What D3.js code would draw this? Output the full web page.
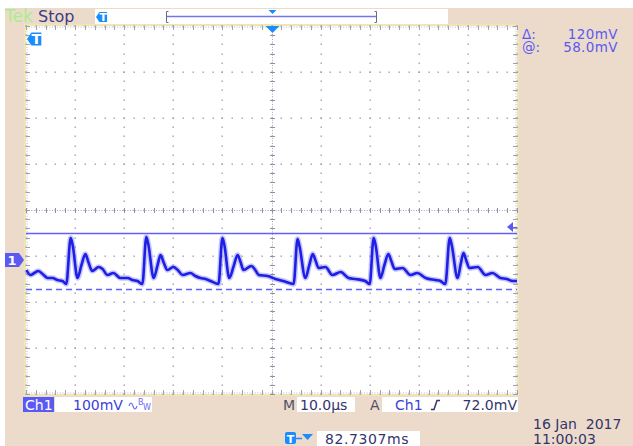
<!DOCTYPE html>
<html>
<head>
<meta charset="utf-8">
<script src="https://cdn.jsdelivr.net/npm/d3@7"></script>
<style>
  body { margin: 0; background: #fff; }
  svg { display: block; }
  text { font-family: "DejaVu Sans", Verdana, sans-serif; }
</style>
</head>
<body>
<div id="scope"></div>
<script>
var width = 633, height = 446;

// trace: time (µs, 0 = trigger) and voltage (mV)
var timeUs = [-49.9,-49.1,-48.3,-47.5,-46.4,-45.6,-44.6,-43.6,-42.6,-41.8,-40.9,-40.5,-39.5,-38.7,-37.9,-37.3,-36.5,-35.2,-34.4,-33.4,-32.2,-30.8,-29.3,-28.3,-27.3,-26.3,-25.5,-25.1,-24.0,-23.2,-22.6,-22.0,-21.2,-20.0,-19.1,-18.1,-16.5,-15.5,-14.5,-13.4,-12.4,-10.8,-10.0,-9.6,-8.6,-7.7,-6.9,-6.3,-5.7,-4.1,-3.3,-2.6,-0.8,0.8,2.4,4.5,5.3,5.7,6.9,7.7,8.4,9.0,9.6,11.0,12.4,14.1,15.7,17.1,19.1,20.0,20.8,21.2,22.2,23.0,23.8,24.4,25.1,26.7,28.3,29.7,31.4,33.4,34.4,35.4,36.3,36.7,37.9,38.5,39.1,39.7,40.3,42.0,43.6,45.0,46.6,47.9,49.1,50.0];
var voltsMv = [-21.7,-32.6,-28.3,-23.9,-32.6,-39.1,-39.1,-43.5,-45.7,-52.2,47.8,32.6,-39.1,-10.9,13.0,-4.3,-23.9,-15.2,-19.6,-32.6,-28.3,-39.1,-39.1,-43.5,-45.7,-52.2,50.0,34.8,-39.1,-10.9,10.9,-4.3,-21.7,-15.2,-21.7,-32.6,-28.3,-34.8,-39.1,-41.3,-45.7,-52.2,47.8,32.6,-39.1,-13.0,10.9,-4.3,-21.7,-13.0,-21.7,-32.6,-34.8,-41.3,-45.7,-52.2,45.7,30.4,-39.1,-10.9,13.0,-2.2,-17.4,-15.2,-32.6,-26.1,-39.1,-41.3,-45.7,-52.2,47.8,32.6,-39.1,-10.9,13.0,-2.2,-19.6,-17.4,-32.6,-28.3,-39.1,-43.5,-45.7,-52.2,47.8,32.6,-39.1,-10.9,15.2,-2.2,-17.4,-15.2,-32.6,-28.3,-39.1,-41.3,-45.7,-45.7];

// scope settings
var voltsPerDiv = 100, timePerDiv = 10, chPositionDiv = -1.087;
var cursorsMv = [58, -62];
var triggerLevelMv = 72;
var readoutLabels = ['\u0394:', '@:'];
var readoutValues = ['120mV', '58.0mV'];
var chLabel = 'Ch1', chScale = '100mV', timeBase = '10.0\u00b5s';
var trigSource = 'Ch1', trigLevel = '72.0mV', trigPos = '82.7307ms';
var dateText = ['16 Jan  2017', '11:00:03'];

var beige = '#ecdbcb', blue = '#5a5af2', azure = '#1a8cff', navy = '#34346c';

var svg = d3.select('#scope').append('svg')
  .attr('width', width)
  .attr('height', height);

svg.append('rect').attr('width', width).attr('height', height).attr('fill', '#fff');
svg.append('rect').attr('x', 5).attr('y', 8).attr('width', width - 5).attr('height', height - 8).attr('fill', beige);

var sLeft = 26, sRight = 517, sTop = 26, sBottom = 394;
var x = d3.scaleLinear().domain([-5 * timePerDiv, 5 * timePerDiv]).range([sLeft, sRight]);
var y = d3.scaleLinear()
  .domain([(-4 - chPositionDiv) * voltsPerDiv, (4 - chPositionDiv) * voltsPerDiv])
  .range([sBottom, sTop]);

// screen
svg.append('rect')
  .attr('x', sLeft - 1).attr('y', sTop - 1)
  .attr('width', sRight - sLeft + 2).attr('height', sBottom - sTop + 2)
  .attr('fill', '#fff').attr('stroke', '#efe6b6').attr('stroke-width', 2);

var grid = svg.append('g').attr('id', 'graticule');
var tMinor = d3.range(-50, 50.01, 2), tMajor = d3.range(-50, 50.01, 10);
var vDom = y.domain();
var vMajor = d3.range(0, 9).map(function(i) { return vDom[0] + i * voltsPerDiv; });
var vMinor = d3.range(0, 41).map(function(i) { return vDom[0] + i * voltsPerDiv / 5; });
var dotCol = '#9c9cae';

// dots on every grid line at minor steps
tMajor.forEach(function(t) {
  grid.selectAll(null).data(vMinor).enter().append('rect')
    .attr('x', Math.round(x(t)) - 0.5).attr('y', function(v) { return Math.round(y(v)) - 0.5; })
    .attr('width', 1.4).attr('height', 1.4).attr('fill', dotCol);
});
vMajor.forEach(function(v) {
  grid.selectAll(null).data(tMinor).enter().append('rect')
    .attr('x', function(t) { return Math.round(x(t)) - 0.5; }).attr('y', Math.round(y(v)) - 0.5)
    .attr('width', 1.4).attr('height', 1.4).attr('fill', dotCol);
});

// centre lines and frame with ticks
var cx = Math.round(x(0)) + 0.5, cy = Math.round(y(vDom[0] + 4 * voltsPerDiv)) + 0.5;
grid.append('line').attr('x1', cx).attr('x2', cx).attr('y1', sTop).attr('y2', sBottom)
  .attr('stroke', '#a4a4b8').attr('stroke-dasharray', '1,1.6');
grid.append('line').attr('x1', sLeft).attr('x2', sRight).attr('y1', cy).attr('y2', cy)
  .attr('stroke', '#a4a4b8').attr('stroke-dasharray', '1,1.6');
[sTop + 1, sBottom - 1].forEach(function(yy) {
  grid.append('line').attr('x1', sLeft).attr('x2', sRight).attr('y1', yy).attr('y2', yy)
    .attr('stroke', '#b4b4c0').attr('stroke-dasharray', '1,1.6');
});
[sLeft + 1, sRight - 1].forEach(function(xx) {
  grid.append('line').attr('x1', xx).attr('x2', xx).attr('y1', sTop).attr('y2', sBottom)
    .attr('stroke', '#b4b4c0').attr('stroke-dasharray', '1,1.6');
});
grid.selectAll(null).data(tMinor).enter().append('line')
  .attr('x1', function(t) { return Math.round(x(t)) + 0.5; })
  .attr('x2', function(t) { return Math.round(x(t)) + 0.5; })
  .attr('y1', cy - 2.5).attr('y2', cy + 2.5).attr('stroke', '#9090a8');
grid.selectAll(null).data(vMinor).enter().append('line')
  .attr('y1', function(v) { return Math.round(y(v)) + 0.5; })
  .attr('y2', function(v) { return Math.round(y(v)) + 0.5; })
  .attr('x1', cx - 2.5).attr('x2', cx + 2.5).attr('stroke', '#9090a8');
[[sTop, 4], [sBottom, -4]].forEach(function(e) {
  grid.selectAll(null).data(tMinor).enter().append('line')
    .attr('x1', function(t) { return Math.round(x(t)) + 0.5; })
    .attr('x2', function(t) { return Math.round(x(t)) + 0.5; })
    .attr('y1', e[0]).attr('y2', e[0] + e[1]).attr('stroke', '#a0a0b4');
});
[[sLeft, 4], [sRight, -4]].forEach(function(e) {
  grid.selectAll(null).data(vMinor).enter().append('line')
    .attr('y1', function(v) { return Math.round(y(v)) + 0.5; })
    .attr('y2', function(v) { return Math.round(y(v)) + 0.5; })
    .attr('x1', e[0]).attr('x2', e[0] + e[1]).attr('stroke', '#a0a0b4');
});

// cursors
svg.append('line').attr('x1', sLeft).attr('x2', sRight)
  .attr('y1', Math.round(y(cursorsMv[0])) + 0.5).attr('y2', Math.round(y(cursorsMv[0])) + 0.5)
  .attr('stroke', '#5f5fff').attr('stroke-width', 1.3);
svg.append('line').attr('x1', sLeft).attr('x2', sRight)
  .attr('y1', Math.round(y(cursorsMv[1])) + 0.5).attr('y2', Math.round(y(cursorsMv[1])) + 0.5)
  .attr('stroke', '#5f5fff').attr('stroke-width', 1.3).attr('stroke-dasharray', '6,4');

// waveform
var pts = timeUs.map(function(t, i) { return [t, voltsMv[i]]; });
var line = d3.line().x(function(d) { return x(d[0]); }).y(function(d) { return y(d[1]); })
  .curve(d3.curveMonotoneX);
svg.append('path').datum(pts).attr('d', line)
  .attr('fill', 'none').attr('stroke', '#8c8cff').attr('stroke-width', 5.5).attr('stroke-opacity', 0.5)
  .attr('stroke-linejoin', 'round');
svg.append('path').datum(pts).attr('d', line)
  .attr('fill', 'none').attr('stroke', '#1e1ee4').attr('stroke-width', 2.6)
  .attr('stroke-linejoin', 'round');

// markers
function tMarker(g, px, py, s, col, label) {
  g.append('path')
    .attr('d', 'M' + px + ',' + py + 'l' + (4 * s) + ',' + (-6 * s) + 'h' + (9 * s) + 'v' + (12 * s) + 'h' + (-9 * s) + 'z')
    .attr('fill', col);
  g.append('text').attr('x', px + 8.5 * s).attr('y', py + 4.5 * s)
    .attr('text-anchor', 'middle').attr('font-size', 13 * s).attr('font-weight', 'bold')
    .attr('fill', '#fff').text(label);
}
tMarker(svg, 27, 39, 1.1, azure, 'T');

// channel 1 ground marker
var gy = Math.round(y(0));
svg.append('path')
  .attr('d', 'M5,' + (gy - 7) + 'h14l5,7l-5,7h-14z').attr('fill', blue);
svg.append('text').attr('x', 12).attr('y', gy + 5).attr('text-anchor', 'middle')
  .attr('font-size', 13).attr('font-weight', 'bold').attr('fill', '#fff').text('1');

// trigger position marker at top of screen
svg.append('path').attr('d', 'M' + (cx - 7) + ',' + sTop + 'h14l-7,7z').attr('fill', azure);

// trigger level arrow
var ty = Math.round(y(triggerLevelMv));
svg.append('path').attr('d', 'M507,' + ty + 'l6,-5v10z').attr('fill', blue);
svg.append('line').attr('x1', 512).attr('x2', 517).attr('y1', ty + 0.5).attr('y2', ty + 0.5)
  .attr('stroke', blue);

// top bar
svg.append('text').attr('x', 5).attr('y', 22).attr('font-size', 17).attr('fill', '#a8ee8a').text('Tek');
svg.append('text').attr('x', 38).attr('y', 22).attr('font-size', 16).attr('fill', '#3c3c88').text('Stop');
svg.append('rect').attr('x', 95).attr('y', 9).attr('width', 353).attr('height', 15).attr('fill', '#fff');
tMarker(svg, 96, 17, 0.85, azure, 'T');
svg.append('line').attr('x1', 166).attr('x2', 377).attr('y1', 16.5).attr('y2', 16.5)
  .attr('stroke', '#7474ee').attr('stroke-width', 1.5);
[166.5, 376.5].forEach(function(bx, i) {
  svg.append('path')
    .attr('d', 'M' + (bx + (i ? -2 : 2)) + ',11.5H' + bx + 'V22.5H' + (bx + (i ? -2 : 2)))
    .attr('fill', 'none').attr('stroke', '#6a6a80');
});
svg.append('path').attr('d', 'M' + (cx - 4) + ',10h8l-4,4z').attr('fill', azure);

// cursor readout
readoutLabels.forEach(function(lab, i) {
  svg.append('text').attr('x', 522).attr('y', 38.5 + i * 13).attr('font-size', 13.5).attr('fill', blue).text(lab);
  svg.append('text').attr('x', 618).attr('y', 38.5 + i * 13).attr('text-anchor', 'end')
    .attr('font-size', 13.5).attr('letter-spacing', 0.4).attr('fill', blue).text(readoutValues[i]);
});

// bottom status line
var sy = 410;
svg.append('rect').attr('x', 23).attr('y', 397).attr('width', 31).attr('height', 15).attr('fill', blue);
svg.append('text').attr('x', 25).attr('y', sy).attr('font-size', 14).attr('fill', '#fff').text(chLabel);
svg.append('rect').attr('x', 55).attr('y', 397).attr('width', 97).attr('height', 15).attr('fill', '#fff');
svg.append('text').attr('x', 73).attr('y', sy).attr('font-size', 14).attr('fill', '#4040d8').text(chScale);
svg.append('path').attr('d', 'M129,406q2,-6 4,0t4,0').attr('fill', 'none').attr('stroke', '#6a6af0').attr('stroke-width', 1.2);
svg.append('text').attr('x', 138).attr('y', 405).attr('font-size', 8).attr('fill', '#6a6af0').text('B');
svg.append('text').attr('x', 143).attr('y', 410).attr('font-size', 8).attr('fill', '#6a6af0').text('W');

svg.append('text').attr('x', 283).attr('y', sy).attr('font-size', 14).attr('fill', '#50506a').text('M');
svg.append('rect').attr('x', 297).attr('y', 397).attr('width', 58).attr('height', 15).attr('fill', '#fff');
svg.append('text').attr('x', 300).attr('y', sy).attr('font-size', 14).attr('fill', navy).text(timeBase);

svg.append('text').attr('x', 370).attr('y', sy).attr('font-size', 14).attr('fill', '#50506a').text('A');
svg.append('rect').attr('x', 382).attr('y', 397).attr('width', 136).attr('height', 15).attr('fill', '#fff');
svg.append('text').attr('x', 395).attr('y', sy).attr('font-size', 14).attr('fill', '#4040d8').text(trigSource);
svg.append('path').attr('d', 'M431,409.5h3l3,-9h3').attr('fill', 'none').attr('stroke', navy).attr('stroke-width', 1.5);
svg.append('text').attr('x', 517).attr('y', sy).attr('text-anchor', 'end').attr('font-size', 14).attr('fill', navy).text(trigLevel);

// trigger position readout
svg.append('rect').attr('x', 285).attr('y', 432).attr('width', 11).attr('height', 12).attr('rx', 2).attr('fill', azure);
svg.append('text').attr('x', 290.5).attr('y', 442.5).attr('text-anchor', 'middle').attr('font-size', 11)
  .attr('font-weight', 'bold').attr('fill', '#fff').text('T');
svg.append('line').attr('x1', 296).attr('x2', 302).attr('y1', 438.5).attr('y2', 438.5).attr('stroke', azure).attr('stroke-width', 1.5);
svg.append('path').attr('d', 'M302,434h11l-5.5,6z').attr('fill', azure);
svg.append('rect').attr('x', 317).attr('y', 431).attr('width', 103).attr('height', 15).attr('fill', '#fff');
svg.append('text').attr('x', 325).attr('y', 444).attr('font-size', 14).attr('letter-spacing', 0.6).attr('fill', navy).text(trigPos);

// date & time
dateText.forEach(function(s, i) {
  svg.append('text').attr('x', 533).attr('y', 429 + i * 15).attr('font-size', 14)
    .attr('fill', navy).attr('xml:space', 'preserve').style('white-space', 'pre').text(s);
});
</script>
</body>
</html>
